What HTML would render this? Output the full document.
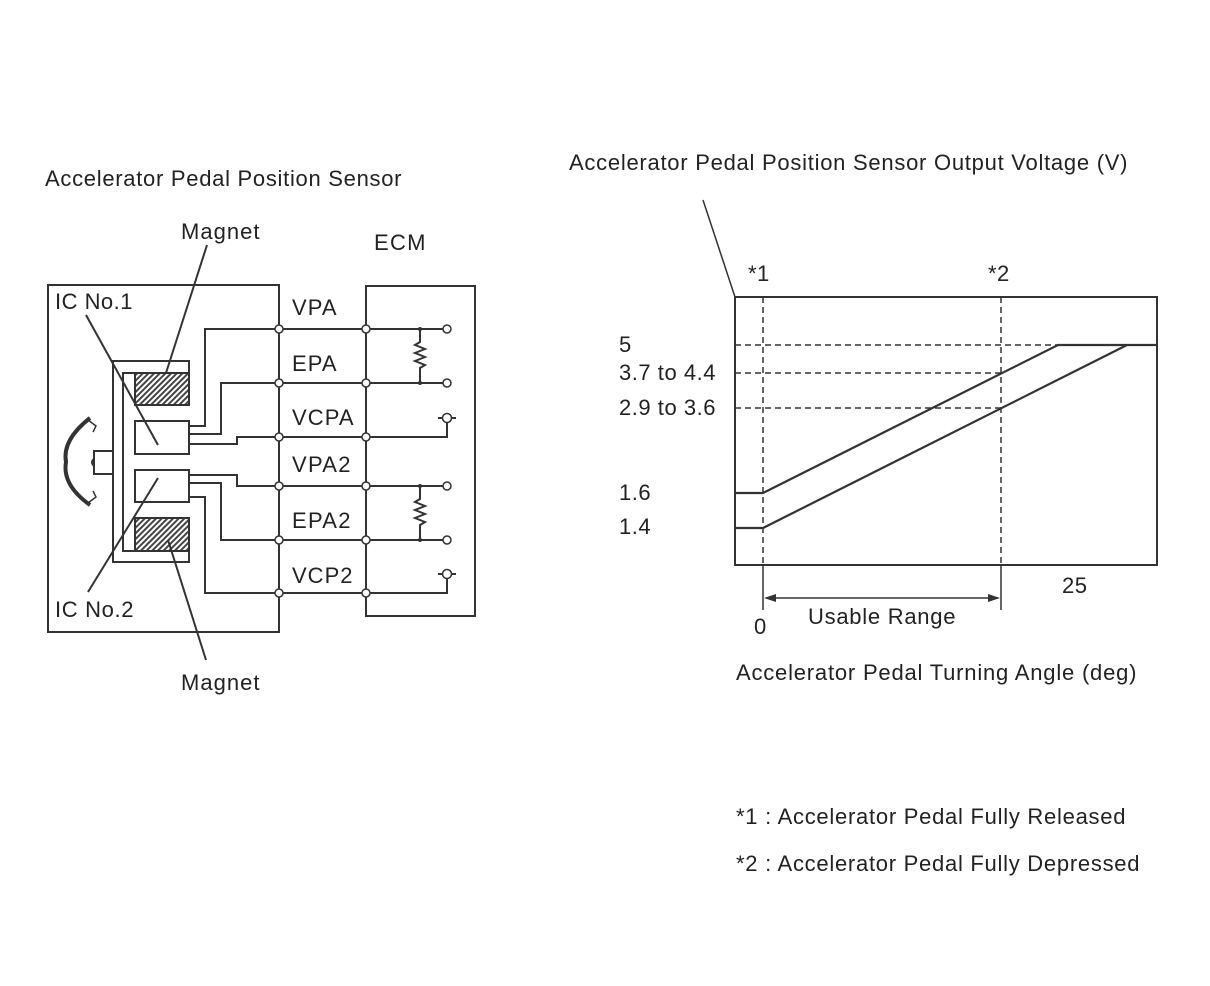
<!DOCTYPE html>
<html><head><meta charset="utf-8"><style>
html,body{margin:0;padding:0;background:#fff;}
svg{display:block;}
text{font-family:"Liberation Sans",sans-serif;font-size:22px;fill:#222;letter-spacing:0.5px;}
</style></head><body>
<svg width="1210" height="986" viewBox="0 0 1210 986" xmlns="http://www.w3.org/2000/svg">
<defs>
<pattern id="h" width="4" height="4" patternUnits="userSpaceOnUse" patternTransform="rotate(45)">
<rect width="4" height="4" fill="#fff"/><rect width="2" height="4" fill="#444"/></pattern>
</defs>
<g stroke="#333" stroke-width="2" fill="none">
<rect x="48" y="285" width="231" height="347"/>
<rect x="366" y="286" width="109" height="330"/>
<path d="M189 361 H113 V562 H189 V551 H123 V373 H189 Z" fill="#fff"/>
<rect x="135" y="373" width="54" height="32" fill="url(#h)"/>
<rect x="135" y="518" width="54" height="33" fill="url(#h)"/>
<rect x="135" y="421" width="54" height="33" fill="#fff"/>
<rect x="135" y="470" width="54" height="32" fill="#fff"/>
<path d="M113 451 H94 V474 H113"/>
<path d="M94 459 Q90 462 94 466" />
<path d="M90 418 Q62 440 66 462 Q62 485 90 505" stroke-width="4"/>
<path d="M88 420 l8 6 l-3 6" stroke-width="1.5"/>
<path d="M88 503 l8 -6 l-3 -6" stroke-width="1.5"/>
<path d="M189 426 H205 V329 H366"/>
<path d="M189 434 H221 V383 H366"/>
<path d="M189 444 H237 V437 H366"/>
<path d="M189 475 H237 V486 H366"/>
<path d="M189 483 H221 V540 H366"/>
<path d="M189 497 H205 V593 H366"/>
<path d="M366 329 H443 M366 383 H443 M366 486 H443 M366 540 H443"/>
<path d="M366 437 H447 V422"/>
<path d="M366 593 H447 V578"/>
<path d="M420 329 V342 l-5 3 l10 4 l-10 4 l10 4 l-10 4 l10 4 l-5 3 V383"/>
<path d="M420 486 V499 l-5 3 l10 4 l-10 4 l10 4 l-10 4 l10 4 l-5 3 V540"/>
<path d="M438 418 H456 M438 574 H456"/>
<path d="M86 315 L158 445"/>
<path d="M207 245 L166 373"/>
<path d="M88 592 L158 478"/>
<path d="M168 540 L206 660"/>
</g>
<g fill="#fff" stroke="#333" stroke-width="1.5">
<circle cx="279" cy="329" r="4"/><circle cx="279" cy="383" r="4"/><circle cx="279" cy="437" r="4"/>
<circle cx="279" cy="486" r="4"/><circle cx="279" cy="540" r="4"/><circle cx="279" cy="593" r="4"/>
<circle cx="366" cy="329" r="4"/><circle cx="366" cy="383" r="4"/><circle cx="366" cy="437" r="4"/>
<circle cx="366" cy="486" r="4"/><circle cx="366" cy="540" r="4"/><circle cx="366" cy="593" r="4"/>
<circle cx="447" cy="329" r="4"/><circle cx="447" cy="383" r="4"/>
<circle cx="447" cy="486" r="4"/><circle cx="447" cy="540" r="4"/>
<circle cx="447" cy="418" r="4.5"/><circle cx="447" cy="574" r="4.5"/>
</g>
<g fill="#333"><circle cx="420" cy="329" r="2"/><circle cx="420" cy="383" r="2"/><circle cx="420" cy="486" r="2"/><circle cx="420" cy="540" r="2"/></g>
<text x="45" y="186" textLength="357" lengthAdjust="spacing">Accelerator Pedal Position Sensor</text>
<text x="181" y="239" textLength="79">Magnet</text>
<text x="374" y="250" textLength="52">ECM</text>
<text x="55" y="309" textLength="78">IC No.1</text>
<text x="55" y="617" textLength="79">IC No.2</text>
<text x="181" y="690" textLength="79">Magnet</text>
<text x="292" y="315" textLength="45">VPA</text>
<text x="292" y="371" textLength="45">EPA</text>
<text x="292" y="425" textLength="62">VCPA</text>
<text x="292" y="472" textLength="59">VPA2</text>
<text x="292" y="528" textLength="59">EPA2</text>
<text x="292" y="583" textLength="61">VCP2</text>
<g stroke="#333" fill="none">
<path d="M703 200 L735 297" stroke-width="1.5"/>
<rect x="735" y="297" width="422" height="268" stroke-width="2"/>
<path d="M763 297 V565 M1001 297 V565" stroke-dasharray="6,4" stroke-width="1.5"/>
<path d="M735 345 H1058 M735 373 H1001 M735 408 H1001" stroke-dasharray="6,4" stroke-width="1.5"/>
<path d="M735 493 H763 L1058 345 H1157" stroke-width="2.2"/>
<path d="M735 528 H763 L1127 345" stroke-width="2.2"/>
<path d="M763 565 V610 M1001 565 V610" stroke-width="1.5"/>
<path d="M766 598 H998" stroke-width="1.5"/>
</g>
<path d="M764 598 l12 -4 v8 z M1000 598 l-12 -4 v8 z" fill="#333"/>
<text x="569" y="170" textLength="559">Accelerator Pedal Position Sensor Output Voltage (V)</text>
<text x="748" y="281">*1</text>
<text x="988" y="281">*2</text>
<text x="619" y="352">5</text>
<text x="619" y="380" textLength="97">3.7 to 4.4</text>
<text x="619" y="415" textLength="97">2.9 to 3.6</text>
<text x="619" y="500">1.6</text>
<text x="619" y="534">1.4</text>
<text x="1062" y="593">25</text>
<text x="808" y="624" textLength="148">Usable Range</text>
<text x="754" y="634">0</text>
<text x="736" y="680" textLength="401">Accelerator Pedal Turning Angle (deg)</text>
<text x="736" y="824" textLength="390">*1 : Accelerator Pedal Fully Released</text>
<text x="736" y="871" textLength="404">*2 : Accelerator Pedal Fully Depressed</text>
</svg>
</body></html>
